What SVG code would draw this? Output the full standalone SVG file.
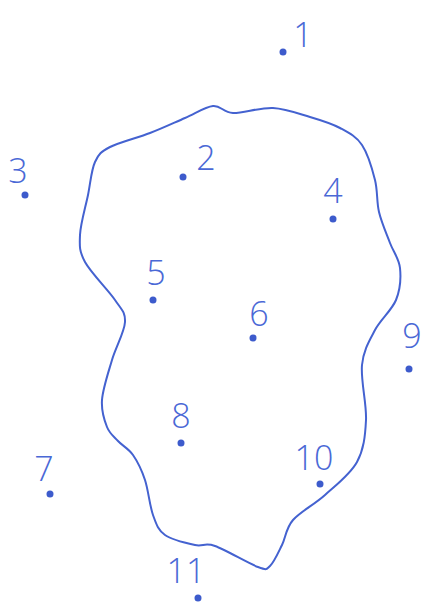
<svg xmlns="http://www.w3.org/2000/svg" width="423" height="606" viewBox="0 0 423 606">
<style>
.pt{fill:#3d5bcc}
.lb{fill:#4a68d6;font-family:"Open Sans","Liberation Sans",sans-serif;font-weight:300;font-size:34px;text-anchor:middle}
.blob{fill:none;stroke:#4462d0;stroke-width:2;stroke-linejoin:round}
</style>
<rect width="423" height="606" fill="#ffffff"/>
<g id="region">
<path class="blob" d="M213,106 C221,105.2 223,112.7 233,113 C243,113.3 260.2,107.3 273,108 C285.8,108.7 298.8,113.7 310,117 C321.2,120.3 331.3,123.3 340,128 C348.7,132.7 356.2,136.3 362,145 C367.8,153.7 372.2,168.8 375,180 C377.8,191.2 376.5,201.5 379,212 C381.5,222.5 386.5,233.7 390,243 C393.5,252.3 399,258.5 400,268 C401,277.5 400.2,289.7 396,300 C391.8,310.3 380.7,319.2 375,330 C369.3,340.8 363.5,350 362,365 C360.5,380 366.8,403.8 366,420 C365.2,436.2 363.8,449.5 357,462 C350.2,474.5 335.7,485.3 325,495 C314.3,504.7 300.2,511.7 293,520 C285.8,528.3 285.8,537.3 282,545 C278.2,552.7 274,562.3 270,566 C266,569.7 267.2,570.3 258,567 C248.8,563.7 225.5,549.7 215,546 C204.5,542.3 203.3,546.8 195,545 C186.7,543.2 172,540 165,535 C158,530 156.3,524.2 153,515 C149.7,505.8 148.3,490 145,480 C141.7,470 137.5,461.5 133,455 C128.5,448.5 122.3,445.7 118,441 C113.7,436.3 109.7,433.8 107,427 C104.3,420.2 101.2,411.2 102,400 C102.8,388.8 108.2,373 112,360 C115.8,347 124.5,332 125,322 C125.5,312 121.7,310 115,300 C108.3,290 90.8,272.8 85,262 C79.2,251.2 79.5,246.2 80,235 C80.5,223.8 85.5,207.2 88,195 C90.5,182.8 91.3,170 95,162 C98.7,154 100.8,151.8 110,147 C119.2,142.2 137.5,137.8 150,133 C162.5,128.2 174.5,122.5 185,118 C195.5,113.5 205,106.8 213,106 Z"/>
</g>
<g id="p1"><circle class="pt" cx="283" cy="52" r="3.5"/><text class="lb" x="303" y="47">1</text></g>
<g id="p2"><circle class="pt" cx="183" cy="177" r="3.5"/><text class="lb" x="206" y="170">2</text></g>
<g id="p3"><circle class="pt" cx="25" cy="195" r="3.5"/><text class="lb" x="18" y="183">3</text></g>
<g id="p4"><circle class="pt" cx="333" cy="219" r="3.5"/><text class="lb" x="333" y="203">4</text></g>
<g id="p5"><circle class="pt" cx="153" cy="300" r="3.5"/><text class="lb" x="156" y="285">5</text></g>
<g id="p6"><circle class="pt" cx="253" cy="338" r="3.5"/><text class="lb" x="259" y="326">6</text></g>
<g id="p7"><circle class="pt" cx="50" cy="494" r="3.5"/><text class="lb" x="44" y="481">7</text></g>
<g id="p8"><circle class="pt" cx="181" cy="443" r="3.5"/><text class="lb" x="181" y="428">8</text></g>
<g id="p9"><circle class="pt" cx="409" cy="369" r="3.5"/><text class="lb" x="412" y="348">9</text></g>
<g id="p10"><circle class="pt" cx="320" cy="484" r="3.5"/><text class="lb" x="314" y="470">10</text></g>
<g id="p11"><circle class="pt" cx="198" cy="598" r="3.5"/><text class="lb" x="186" y="583">11</text></g>
</svg>
